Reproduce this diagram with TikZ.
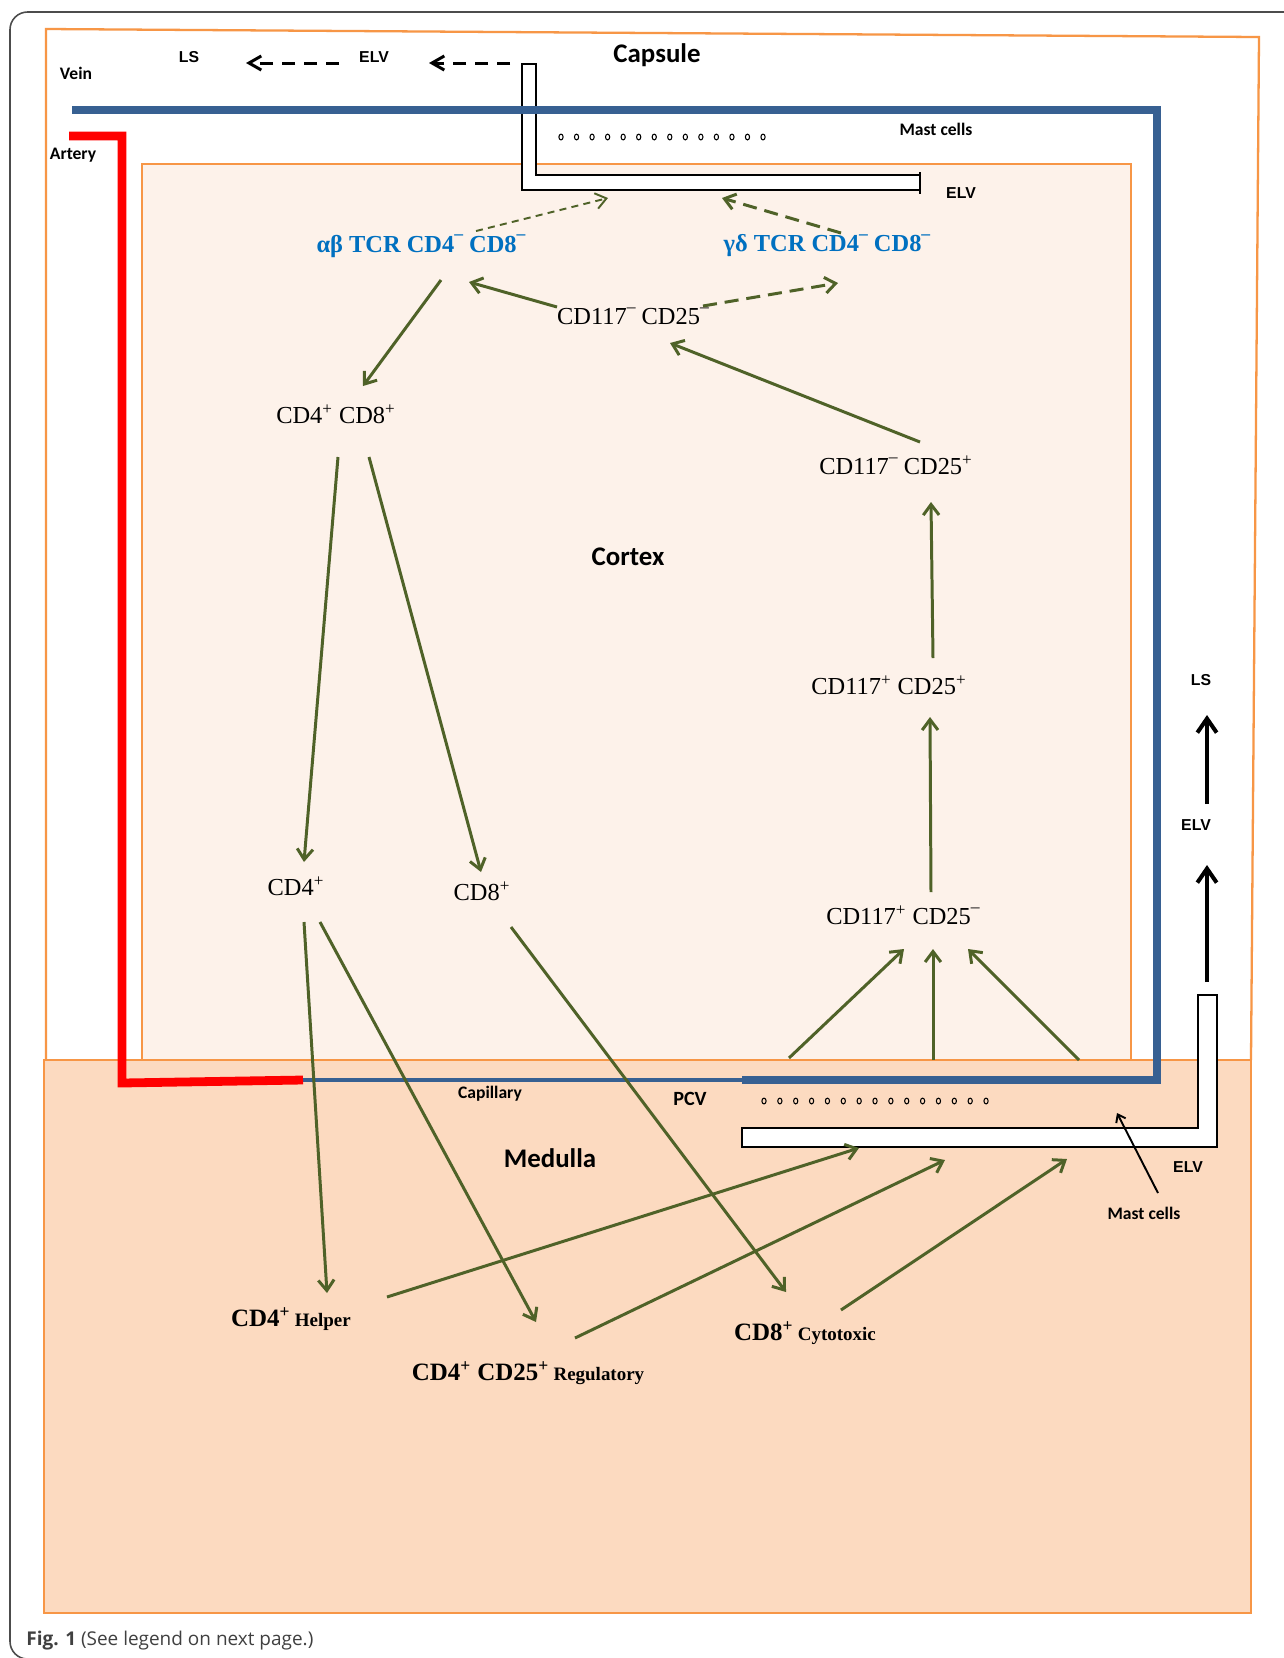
\documentclass[tikz,border=0pt]{standalone}
\usepackage{fontspec}
\setmainfont{Liberation Serif}
\newfontfamily\calib{Carlito}
\newfontfamily\arialf{Liberation Sans}
\newfontfamily\capf{Open Sans}
\usetikzlibrary{positioning,arrows.meta,calc}
\definecolor{capsorange}{RGB}{247,150,70}
\definecolor{cortexfill}{RGB}{253,242,234}
\definecolor{medfill}{RGB}{252,218,192}
\definecolor{veinblue}{RGB}{55,96,146}
\definecolor{arrgreen}{RGB}{79,98,40}
\definecolor{tcrblue}{RGB}{0,112,192}
\newcommand{\supp}{\textsuperscript{+}}
\newcommand{\supm}{\raisebox{0.5em}{\fontsize{10}{10}\selectfont –}}
\newcommand{\cbig}[1]{{\fontsize{14.2}{16}\selectfont\bfseries #1}}
\newcommand{\csmall}[1]{{\fontsize{10.8}{13}\selectfont\bfseries #1}}

\begin{document}
\begin{tikzpicture}[x=0.02cm,y=-0.02cm,
    cell/.style={inner sep=0pt,font=\fontsize{13.9}{16}\selectfont},
    tcr/.style={inner sep=0pt,text=tcrblue,font=\fontsize{13.9}{16}\selectfont\bfseries},
    zone/.style={inner sep=0pt,font=\calib\fontsize{15.3}{18}\selectfont\bfseries},
    tag/.style={inner sep=0pt,font=\calib\fontsize{10}{12}\selectfont\bfseries},
    vtag/.style={inner sep=0pt,font=\arialf\fontsize{9}{11}\selectfont\bfseries},
    box/.style={draw=capsorange,line width=1.3pt},
    tubeline/.style={draw=black,line width=1.3pt},
    vein/.style={draw=veinblue,line width=4.8pt},
    capil/.style={draw=veinblue,line width=2.2pt},
    artery/.style={draw=red,line width=5pt},
    mast/.style={draw=black,line width=0.6pt},
    garr/.style={draw=arrgreen,line width=1.7pt,-{Straight Barb[length=6pt,width=9pt]}},
    gdash/.style={garr,dash pattern=on 8pt off 4.5pt},
    gthin/.style={garr,line width=1.1pt,dash pattern=on 4pt off 3pt},
    karr/.style={draw=black,line width=2.3pt,-{Straight Barb[length=8pt,width=11pt]}},
    kdash/.style={draw=black,line width=1.7pt,dash pattern=on 7.5pt off 5pt,-{Straight Barb[length=7pt,width=8pt]}},
    kthin/.style={draw=black,line width=1.1pt,-{Straight Barb[length=4pt,width=6pt]}}
  ]
  \fill[white] (0,0) rectangle (1284,1658);
  \useasboundingbox (0,0) rectangle (1284,1658);
  % frame of the figure
  \draw[black!70,line width=0.9pt,rounded corners=10] (1284,12) -- (10,12) -- (10,1659) -- (1284,1659);

  % capsule, cortex, medulla
  \draw[box] (46,1060) -- (46,29) -- (1259,37) -- (1251,1060);
  \draw[box,fill=cortexfill] (142,164) rectangle (1131,1060);
  \draw[box,fill=medfill] (44,1060) rectangle (1251,1613);

  % efferent lymphatic vessels
  \fill[white] (522,64) rectangle (536,190) (536,175) rectangle (920,190);
  \draw[tubeline] (920,175) -- (536,175) -- (536,64) -- (522,64) -- (522,190) -- (920,190);
  \draw[tubeline] (920,172) -- (920,194);
  \draw[tubeline,fill=white] (742,1128) -- (1198,1128) -- (1198,995) -- (1217,995) -- (1217,1147) -- (742,1147) -- cycle;
  \coordinate (elvout) at (510,63);
  \coordinate (elvup) at (1207,982);

  % vessels
  \draw[vein] (72,110) -- (1157,110) -- (1157,1080) -- (742,1080);
  \draw[capil] (742,1080) -- (303,1080);
  \draw[artery] (69,136) -- (122,136) -- (122,1083) -- (303,1080);

  % mast cells
  \foreach \i in {0,...,13}
    \draw[mast] (561+\i*15.54,137) ellipse [x radius=1.2pt,y radius=1.65pt];
  \foreach \i in {0,...,14}
    \draw[mast] (764+\i*15.86,1101) ellipse [x radius=1.2pt,y radius=1.65pt];

  % labels
  \node[zone] (capsule) at (657,55) {Capsule};
  \node[zone] (cortex) at (628,557) {Cortex};
  \node[zone] (medulla) at (550,1158) {Medulla};
  \node[tag] (vein) at (76,73) {Vein};
  \node[tag] (artery) at (73,155) {Artery};
  \node[tag] (masttop) at (936,129) {Mast cells};
  \node[tag] (capillary) at (490,1094) {Capillary};
  \node[tag,font=\calib\fontsize{11.5}{13}\selectfont\bfseries] (pcv) at (690,1099) {PCV};
  \node[tag] (mastmed) at (1144,1213) {Mast cells};
  \node[vtag] (lstop) at (189,57) {LS};
  \node[vtag] (elvtop) at (374,57) {ELV};
  \node[vtag] (elvcap) at (961,193) {ELV};
  \node[vtag] (lsside) at (1201,680) {LS};
  \node[vtag] (elvside) at (1196,825) {ELV};
  \node[vtag] (elvmed) at (1188,1167) {ELV};

  % cells
  \node[tcr] (ab) at (421,246) {αβ TCR CD4\supm{} CD8\supm};
  \node[tcr] (gd) at (827,246) {γδ TCR CD4\supm{} CD8\supm};
  \node[cell] (m117m25) at (633,316) {CD117\supm{} CD25\supm};
  \node[cell] (cd4cd8) at (336,414) {CD4\supp{} CD8\supp};
  \node[cell] (m117p25) at (896,465) {CD117\supm{} CD25\supp};
  \node[cell] (p117p25) at (889,685) {CD117\supp{} CD25\supp};
  \node[cell] (p117m25) at (903,915) {CD117\supp{} CD25\supm};
  \node[cell] (cd4) at (296,886) {CD4\supp};
  \node[cell] (cd8) at (482,891) {CD8\supp};
  \node[inner sep=0pt] (helper) at (291,1319) {\cbig{CD4\supp} \csmall{Helper}};
  \node[inner sep=0pt] (treg) at (528,1373) {\cbig{CD4\supp{} CD25\supp} \csmall{Regulatory}};
  \node[inner sep=0pt] (cyto) at (805,1333) {\cbig{CD8\supp} \csmall{Cytotoxic}};

  \node[anchor=west,inner sep=0pt,text=black!75,font=\capf\fontsize{10.8}{13}\selectfont] (caption) at (26,1641) {\textbf{Fig. 1} (See legend on next page.)};

  % lymph flow
  \draw[kdash] (elvout) -- ($(elvtop)+(55,6)$);
  \draw[kdash] ($(elvtop)+(-35,6)$) -- ($(lstop)+(57,6)$);
  \draw[karr] (elvup) -- ($(elvside)+(11,40)$);
  \draw[karr] ($(elvside)+(11,-21)$) -- ($(lsside)+(6,35)$);
  \draw[kthin] ($(mastmed)+(14,-20)$) -- ($(mastmed)+(-27,-100)$);

  % points on the vessels
  \coordinate (pcva) at (789,1058);
  \coordinate (pcvb) at (933,1060);
  \coordinate (pcvc) at (1079,1060);
  \coordinate (elvina) at (608,198);
  \coordinate (elvinb) at (722,198);
  \coordinate (elvinc) at (859,1148);
  \coordinate (elvind) at (945,1160);
  \coordinate (elvine) at (1067,1159);

  % maturation
  \draw[garr] (pcva) -- ($(p117m25)+(1,34)$);
  \draw[garr] (pcvb) -- ($(p117m25)+(30,34)$);
  \draw[garr] (pcvc) -- ($(p117m25)+(65,34)$);
  \draw[garr] ($(p117m25)+(28,-23)$) -- ($(p117p25)+(41,32)$);
  \draw[garr] ($(p117p25)+(44,-27)$) -- ($(m117p25)+(35,37)$);
  \draw[garr] ($(m117p25)+(24,-23)$) -- ($(m117m25)+(37,27)$);
  \draw[garr] ($(m117m25)+(-76,-9)$) -- ($(ab)+(48,36)$);
  \draw[gdash] ($(m117m25)+(70,-10)$) -- ($(gd)+(11,37)$);
  \draw[gthin] ($(ab)+(55,-15)$) -- (elvina);
  \draw[gdash] ($(gd)+(14,-13)$) -- (elvinb);
  \draw[garr] ($(ab)+(20,34)$) -- ($(cd4cd8)+(27,-28)$);
  \draw[garr] ($(cd4cd8)+(2,43)$) -- ($(cd4)+(8,-24)$);
  \draw[garr] ($(cd4cd8)+(33,43)$) -- ($(cd8)+(-1,-19)$);
  \draw[garr] ($(cd4)+(8,36)$) -- ($(helper)+(36,-26)$);
  \draw[garr] ($(cd4)+(24,36)$) -- ($(treg)+(8,-51)$);
  \draw[garr] ($(cd8)+(29,36)$) -- ($(cyto)+(-19,-41)$);
  \draw[garr] ($(helper)+(96,-22)$) -- (elvinc);
  \draw[garr] ($(treg)+(47,-35)$) -- (elvind);
  \draw[garr] ($(cyto)+(36,-23)$) -- (elvine);
\end{tikzpicture}
\end{document}
